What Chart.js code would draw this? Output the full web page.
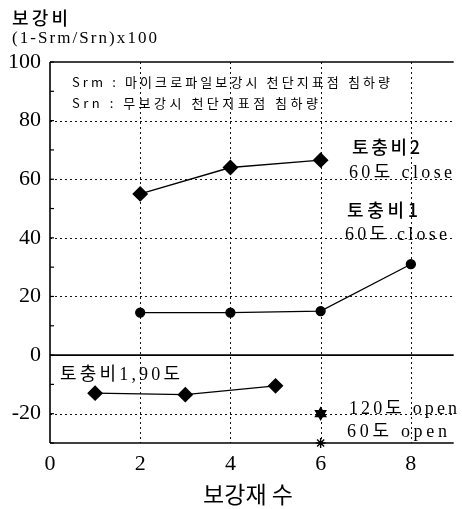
<!DOCTYPE html>
<html>
<head>
<meta charset="utf-8">
<script src="https://cdn.jsdelivr.net/npm/chart.js@4/dist/chart.umd.min.js"></script>
<style>
  html, body { margin: 0; padding: 0; background: #fff; }
  #wrap { width: 462px; height: 509px; }
</style>
</head>
<body>
<div id="wrap"><canvas id="c" width="462" height="509"></canvas></div>
<script>
// Axis ticks: number of reinforcements (x) and reinforcement ratio (y)
const xTicks = [0, 2, 4, 6, 8];
const yTicks = [-20, 0, 20, 40, 60, 80, 100];

// 토충비2, 60도 close
const soil2Close60X = [2, 4, 6];
const soil2Close60Y = [55, 64, 66.5];
// 토충비1, 60도 close
const soil1Close60X = [2, 4, 6, 8];
const soil1Close60Y = [14.5, 14.5, 15, 31];
// 토충비1, 90도
const soil1Deg90X = [1, 3, 5];
const soil1Deg90Y = [-13, -13.5, -10.5];
// 120도 open
const open120X = [6];
const open120Y = [-20];
// 60도 open
const open60X = [6];
const open60Y = [-30];

const toPoints = (xs, ys) => xs.map((v, i) => ({ x: v, y: ys[i] }));

const SERIF = "'Liberation Serif', 'Noto Sans CJK KR', serif";
const NUM = "'Liberation Serif', serif";
const HANGUL = "'Noto Sans CJK KR', 'Liberation Serif', sans-serif";

// Draws a string stretched (via letter spacing) to a given visible width
function fitText(ctx, str, x, y, font, width) {
  ctx.font = font;
  ctx.letterSpacing = '0px';
  const w = ctx.measureText(str).width;
  const n = [...str].length;
  const sp = (n > 1 && width) ? (width - w) / (n - 1) : 0;
  ctx.letterSpacing = sp.toFixed(2) + 'px';
  ctx.fillText(str, x, y);
  ctx.letterSpacing = '0px';
}

const framePlugin = {
  id: 'frame',
  beforeDatasetsDraw(chart) {
    const { ctx, chartArea: a, scales: { x, y } } = chart;
    const seg = (x1, y1, x2, y2) => { ctx.beginPath(); ctx.moveTo(x1, y1); ctx.lineTo(x2, y2); ctx.stroke(); };
    ctx.save();
    ctx.strokeStyle = '#111';
    ctx.lineWidth = 1;
    ctx.setLineDash([2, 3]);
    xTicks.filter(v => v > 0).forEach(v => {
      const px = Math.round(x.getPixelForValue(v)) + 0.5;
      seg(px, a.top, px, a.bottom);
    });
    yTicks.filter(v => v !== 0 && v !== 100).forEach(v => {
      const py = Math.round(y.getPixelForValue(v)) + 0.5;
      seg(a.left, py, a.right, py);
    });
    ctx.setLineDash([]);
    ctx.strokeStyle = '#000';
    ctx.lineWidth = 1.6;
    const y0 = y.getPixelForValue(0);
    seg(a.left, y0, a.right, y0);
    seg(a.left, a.top, a.right, a.top);
    seg(a.left, a.bottom, a.right, a.bottom);
    seg(a.left, a.top, a.left, a.bottom);
    // minor ticks on the value axis
    ctx.lineWidth = 1.2;
    for (let v = -30; v <= 100; v += 10) {
      const py = y.getPixelForValue(v);
      seg(a.left, py, a.left + 4, py);
    }
    ctx.restore();
  },
  afterDraw(chart) {
    const { ctx } = chart;
    ctx.save();
    ctx.fillStyle = '#000';
    ctx.textBaseline = 'middle';
    ctx.textAlign = 'left';
    // value axis caption
    fitText(ctx, '보강비', 12, 18, '500 18px ' + HANGUL, 56);
    fitText(ctx, '(1-Srm/Srn)x100', 12, 39, '17px ' + SERIF, 145);
    // definitions
    fitText(ctx, 'Srm : 마이크로파일보강시 천단지표점 침하량', 72, 82, '13px ' + HANGUL, 318);
    fitText(ctx, 'Srn : 무보강시 천단지표점 침하량', 72, 103, '13px ' + HANGUL, 246);
    // series captions
    fitText(ctx, '토충비2', 352, 147, '500 18px ' + HANGUL, 68);
    fitText(ctx, '60도 close', 349, 173, '18px ' + SERIF, 103);
    fitText(ctx, '토충비1', 347, 210, '500 18px ' + HANGUL, 71);
    fitText(ctx, '60도 close', 345, 235, '18px ' + SERIF, 102);
    fitText(ctx, '토충비1,90도', 60, 375, '18px ' + SERIF, 120);
    fitText(ctx, '120도 open', 349, 409, '18px ' + SERIF, 108);
    fitText(ctx, '60도 open', 347, 432, '18px ' + SERIF, 100);
    // category axis caption
    ctx.textAlign = 'center';
    fitText(ctx, '보강재 수', 248, 494, '23px ' + HANGUL, 0);
    ctx.restore();
  }
};

const lineStyle = {
  showLine: true,
  borderColor: '#000',
  backgroundColor: '#000',
  borderWidth: 1.3,
  pointBorderColor: '#000',
  pointBackgroundColor: '#000',
  clip: false
};

new Chart(document.getElementById('c'), {
  type: 'scatter',
  data: {
    datasets: [
      { ...lineStyle, label: '토충비2 60도 close', data: toPoints(soil2Close60X, soil2Close60Y), pointStyle: 'rectRot', pointRadius: 7 },
      { ...lineStyle, label: '토충비1 60도 close', data: toPoints(soil1Close60X, soil1Close60Y), pointStyle: 'circle', pointRadius: 4.5 },
      { ...lineStyle, label: '토충비1,90도', data: toPoints(soil1Deg90X, soil1Deg90Y), pointStyle: 'rectRot', pointRadius: 7 },
      { ...lineStyle, showLine: false, label: '120도 open', data: toPoints(open120X, open120Y), pointStyle: 'triangle', pointRadius: 6 },
      { ...lineStyle, showLine: false, label: '120도 open ', data: toPoints(open120X, open120Y), pointStyle: 'triangle', pointRotation: 180, pointRadius: 6 },
      { ...lineStyle, showLine: false, label: '60도 open', data: toPoints(open60X, open60Y), pointStyle: 'star', pointRadius: 5, pointBorderWidth: 1.4 }
    ]
  },
  options: {
    responsive: false,
    animation: false,
    devicePixelRatio: 1,
    layout: { padding: { top: 62, left: 0, right: 0, bottom: 0 } },
    plugins: { legend: { display: false }, tooltip: { enabled: false } },
    scales: {
      x: {
        type: 'linear', min: 0, max: 8.95,
        afterBuildTicks: s => { s.ticks = xTicks.map(v => ({ value: v })); },
        afterFit: s => { s.height = 66; },
        grid: { display: false, drawTicks: false },
        border: { display: false },
        ticks: { color: '#000', font: { family: NUM, size: 22 }, padding: 8, maxRotation: 0 }
      },
      y: {
        type: 'linear', min: -30, max: 100,
        afterBuildTicks: s => { s.ticks = yTicks.map(v => ({ value: v })); },
        afterFit: s => { s.width = 50; },
        grid: { display: false, drawTicks: false },
        border: { display: false },
        ticks: { color: '#000', font: { family: NUM, size: 22 }, padding: 9 }
      }
    }
  },
  plugins: [framePlugin]
});
</script>
</body>
</html>
